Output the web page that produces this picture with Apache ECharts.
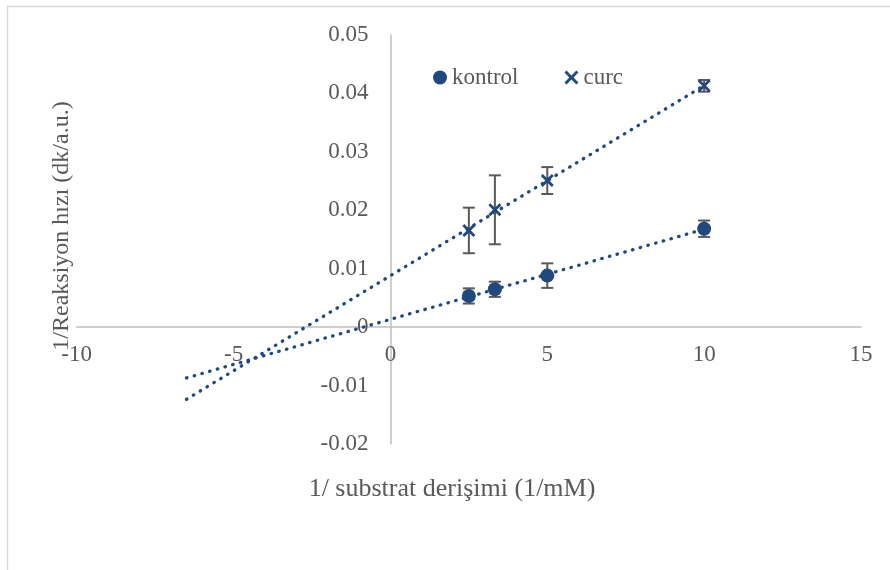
<!DOCTYPE html>
<html>
<head>
<meta charset="utf-8">
<script src="https://cdn.jsdelivr.net/npm/echarts@6/dist/echarts.min.js"></script>
<style>
    html, body { margin: 0; padding: 0; background: #fff; }
    #main { width: 890px; height: 570px; }
</style>
</head>
<body>
<div id="main"></div>
<script>
// 1/[S] values (1/mM)
const substrateInv = [2.5, 3.33, 5, 10];
// 1/V values and error bars
const kontrolValues = [0.00534, 0.00648, 0.00882, 0.01684];
const kontrolErrors = [0.0013, 0.0013, 0.0021, 0.0014];
const curcValues = [0.01655, 0.02008, 0.02509, 0.0413];
const curcErrors = [0.0039, 0.0059, 0.0023, 0.001];
// axis ticks
const xTicks = [-10, -5, 0, 5, 10, 15];
const yTicks = [-0.02, -0.01, 0, 0.01, 0.02, 0.03, 0.04, 0.05];
// trendline is drawn back to this x (backward forecast)
const trendStartX = -6.5;

const blue = '#21497E';
const grey = '#595959';
const font = "'Liberation Serif', 'Times New Roman', serif";
const crossPath = 'path://M0,1.8L1.8,0L6,4.2L10.2,0L12,1.8L7.8,6L12,10.2L10.2,12L6,7.8L1.8,12L0,10.2L4.2,6Z';

// plot box in pixels
const grid = { left: 76.7, right: 29, top: 35, bottom: 126 };
const plotW = 890 - grid.left - grid.right;
const plotH = 570 - grid.top - grid.bottom;
const xMin = xTicks[0], xMax = xTicks[xTicks.length - 1];
const yMin = yTicks[0], yMax = yTicks[yTicks.length - 1];
// axes cross at zero, like Excel: shift them there with offset
const yAxisShift = (0 - xMin) / (xMax - xMin) * plotW;
const xAxisShift = (0 - yMin) / (yMax - yMin) * plotH;

function pairs(ys) {
    return substrateInv.map((x, i) => [x, ys[i]]);
}

function errorData(ys, errs) {
    return substrateInv.map((x, i) => [x, ys[i] - errs[i], ys[i] + errs[i]]);
}

// least squares line, same as Excel linear trendline
function trendLine(ys) {
    const n = substrateInv.length;
    const mx = substrateInv.reduce((a, b) => a + b, 0) / n;
    const my = ys.reduce((a, b) => a + b, 0) / n;
    let sxy = 0, sxx = 0;
    for (let i = 0; i < n; i++) {
        sxy += (substrateInv[i] - mx) * (ys[i] - my);
        sxx += (substrateInv[i] - mx) * (substrateInv[i] - mx);
    }
    const slope = sxy / sxx;
    const icpt = my - slope * mx;
    const xEnd = substrateInv[n - 1];
    return [[trendStartX, icpt + slope * trendStartX], [xEnd, icpt + slope * xEnd]];
}

function renderErrorBar(params, api) {
    const x = api.value(0);
    const top = api.coord([x, api.value(2)]);
    const bot = api.coord([x, api.value(1)]);
    const w = 6;
    const style = { stroke: grey, lineWidth: 2 };
    return {
        type: 'group',
        children: [
            { type: 'line', shape: { x1: top[0], y1: top[1], x2: bot[0], y2: bot[1] }, style: style },
            { type: 'line', shape: { x1: top[0] - w, y1: top[1], x2: top[0] + w, y2: top[1] }, style: style },
            { type: 'line', shape: { x1: bot[0] - w, y1: bot[1], x2: bot[0] + w, y2: bot[1] }, style: style }
        ]
    };
}

const trendStyle = { color: blue, width: 3.3, type: [0.5, 7.5], cap: 'round' };

const myChart = echarts.init(document.getElementById('main'));

const option = {
    animation: false,
    textStyle: { fontFamily: font },
    grid: Object.assign({ containLabel: false }, grid),
    graphic: [
        {
            type: 'rect',
            shape: { x: 7.5, y: 6.5, width: 1000, height: 1000 },
            style: { fill: 'none', stroke: '#D9D9D9', lineWidth: 1.5 },
            silent: true
        },
        {
            type: 'text',
            x: 452, y: 489,
            style: {
                text: '1/ substrat derişimi (1/mM)',
                font: '26px ' + font,
                fill: grey, align: 'center', verticalAlign: 'middle'
            }
        },
        {
            type: 'text',
            x: 62, y: 226,
            rotation: Math.PI / 2,
            style: {
                text: '1/Reaksiyon hızı (dk/a.u.)',
                font: '24px ' + font,
                fill: grey, align: 'center', verticalAlign: 'middle'
            }
        }
    ],
    legend: {
        data: ['kontrol', 'curc'],
        left: 428,
        top: 61,
        itemWidth: 14,
        itemHeight: 14,
        itemGap: 46,
        textStyle: { color: grey, fontSize: 23, fontFamily: font }
    },
    xAxis: {
        type: 'value',
        min: xMin,
        max: xMax,
        interval: xTicks[1] - xTicks[0],
        offset: -xAxisShift,
        splitLine: { show: false },
        axisTick: { show: false },
        axisLine: { onZero: false, lineStyle: { color: '#BFBFBF', width: 1.5 } },
        axisLabel: { color: grey, fontSize: 23, fontFamily: font, margin: 16 }
    },
    yAxis: {
        type: 'value',
        min: yMin,
        max: yMax,
        interval: 0.01,
        offset: -yAxisShift,
        splitLine: { show: false },
        axisTick: { show: false },
        axisLine: { show: true, onZero: false, lineStyle: { color: '#BFBFBF', width: 1.5 } },
        axisLabel: {
            color: grey, fontSize: 23, fontFamily: font, margin: 22,
            formatter: v => String(Math.round(v * 100) / 100)
        }
    },
    series: [
        {
            name: 'kontrol trend',
            type: 'line',
            data: trendLine(kontrolValues),
            symbol: 'none',
            lineStyle: trendStyle,
            z: 1
        },
        {
            name: 'curc trend',
            type: 'line',
            data: trendLine(curcValues),
            symbol: 'none',
            lineStyle: trendStyle,
            z: 1
        },
        {
            name: 'kontrol err',
            type: 'custom',
            renderItem: renderErrorBar,
            encode: { x: 0, y: [1, 2] },
            data: errorData(kontrolValues, kontrolErrors),
            z: 2
        },
        {
            name: 'curc err',
            type: 'custom',
            renderItem: renderErrorBar,
            encode: { x: 0, y: [1, 2] },
            data: errorData(curcValues, curcErrors),
            z: 2
        },
        {
            name: 'kontrol',
            type: 'scatter',
            data: pairs(kontrolValues),
            symbol: 'circle',
            symbolSize: 14,
            itemStyle: { color: blue, opacity: 1 },
            z: 3
        },
        {
            name: 'curc',
            type: 'scatter',
            data: pairs(curcValues),
            symbol: crossPath,
            symbolSize: 13,
            itemStyle: { color: blue, opacity: 1 },
            z: 3
        }
    ]
};

myChart.setOption(option);
</script>
</body>
</html>
